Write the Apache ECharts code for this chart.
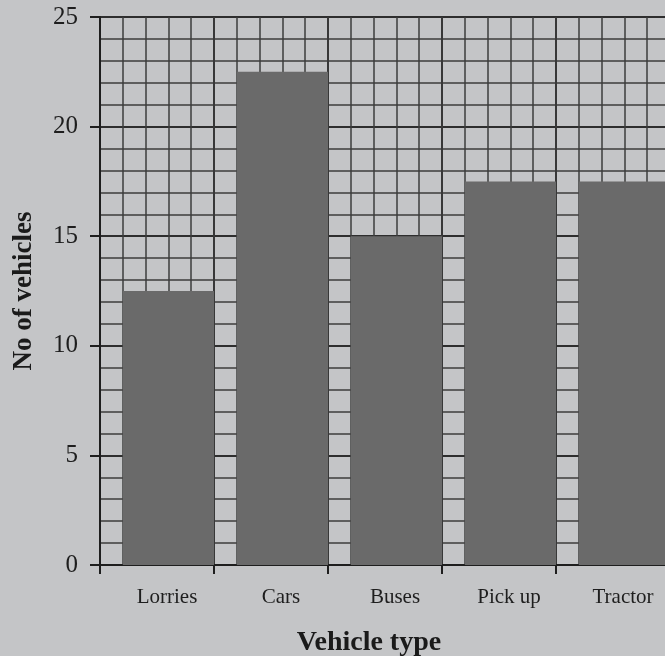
<!DOCTYPE html>
<html>
<head>
<meta charset="utf-8">
<script src="https://cdn.jsdelivr.net/npm/echarts@6/dist/echarts.min.js"></script>
<style>
html,body{margin:0;padding:0;background:#c4c5c7;}
#chart{width:665px;height:656px;}
</style>
</head>
<body>
<div id="chart"></div>
<script>
var categories = ['Lorries', 'Cars', 'Buses', 'Pick up', 'Tractor'];
var vehicleCounts = [12.5, 22.5, 15, 17.5, 17.5];
var spacerValues = [0, 0, 0, 0, 0];
var yTicks = [0, 5, 10, 15, 20, 25];

var serif = '"Liberation Serif", "DejaVu Serif", serif';
var chart = echarts.init(document.getElementById('chart'));
chart.setOption({
  backgroundColor: '#c4c5c7',
  animation: false,
  grid: {left: 100, right: -5, top: 17, bottom: 91, containLabel: false, outerBoundsMode: 'none'},
  xAxis: [{
    type: 'category',
    data: categories,
    boundaryGap: true,
    axisLine: {show: true, lineStyle: {color: '#1e1e1e', width: 2}},
    axisTick: {show: true, length: 9, lineStyle: {color: '#1e1e1e', width: 2}},
    axisLabel: {fontFamily: serif, fontSize: 21, color: '#1e1e1e', margin: 22, padding: [0, 0, 0, 20]},
    splitLine: {show: true, lineStyle: {color: '#2e2e2e', width: 2}},
    name: 'Vehicle type',
    nameLocation: 'middle',
    nameGap: 64,
    nameTextStyle: {fontFamily: serif, fontSize: 28, fontWeight: 'bold', color: '#1a1a1a', padding: [0, 32, 0, 0]}
  }, {
    type: 'value',
    position: 'top',
    min: 0,
    max: 25,
    interval: 1,
    axisLine: {show: false},
    axisTick: {show: false},
    axisLabel: {show: false},
    splitLine: {show: true, lineStyle: {color: '#3c3c3c', width: 1.5}}
  }],
  yAxis: {
    type: 'value',
    min: yTicks[0],
    max: yTicks[yTicks.length - 1],
    interval: 5,
    axisLine: {show: true, lineStyle: {color: '#1e1e1e', width: 2}},
    axisTick: {show: true, length: 10, lineStyle: {color: '#1e1e1e', width: 2}},
    axisLabel: {fontFamily: serif, fontSize: 25, color: '#1e1e1e', margin: 22},
    splitLine: {show: true, lineStyle: {color: '#2e2e2e', width: 2}},
    minorTick: {show: false, splitNumber: 5},
    minorSplitLine: {show: true, lineStyle: {color: '#3c3c3c', width: 1.5}},
    name: 'No of vehicles',
    nameLocation: 'middle',
    nameGap: 62,
    nameTextStyle: {fontFamily: serif, fontSize: 27, fontWeight: 'bold', color: '#1a1a1a'}
  },
  series: [{
    type: 'bar',
    xAxisIndex: 0,
    data: spacerValues,
    barWidth: '20%',
    barGap: '0%',
    silent: true,
    itemStyle: {opacity: 0}
  }, {
    type: 'bar',
    xAxisIndex: 0,
    data: vehicleCounts,
    barWidth: '80%',
    barGap: '0%',
    itemStyle: {color: '#6a6a6a'},
    z: 3
  }]
});
</script>
</body>
</html>
